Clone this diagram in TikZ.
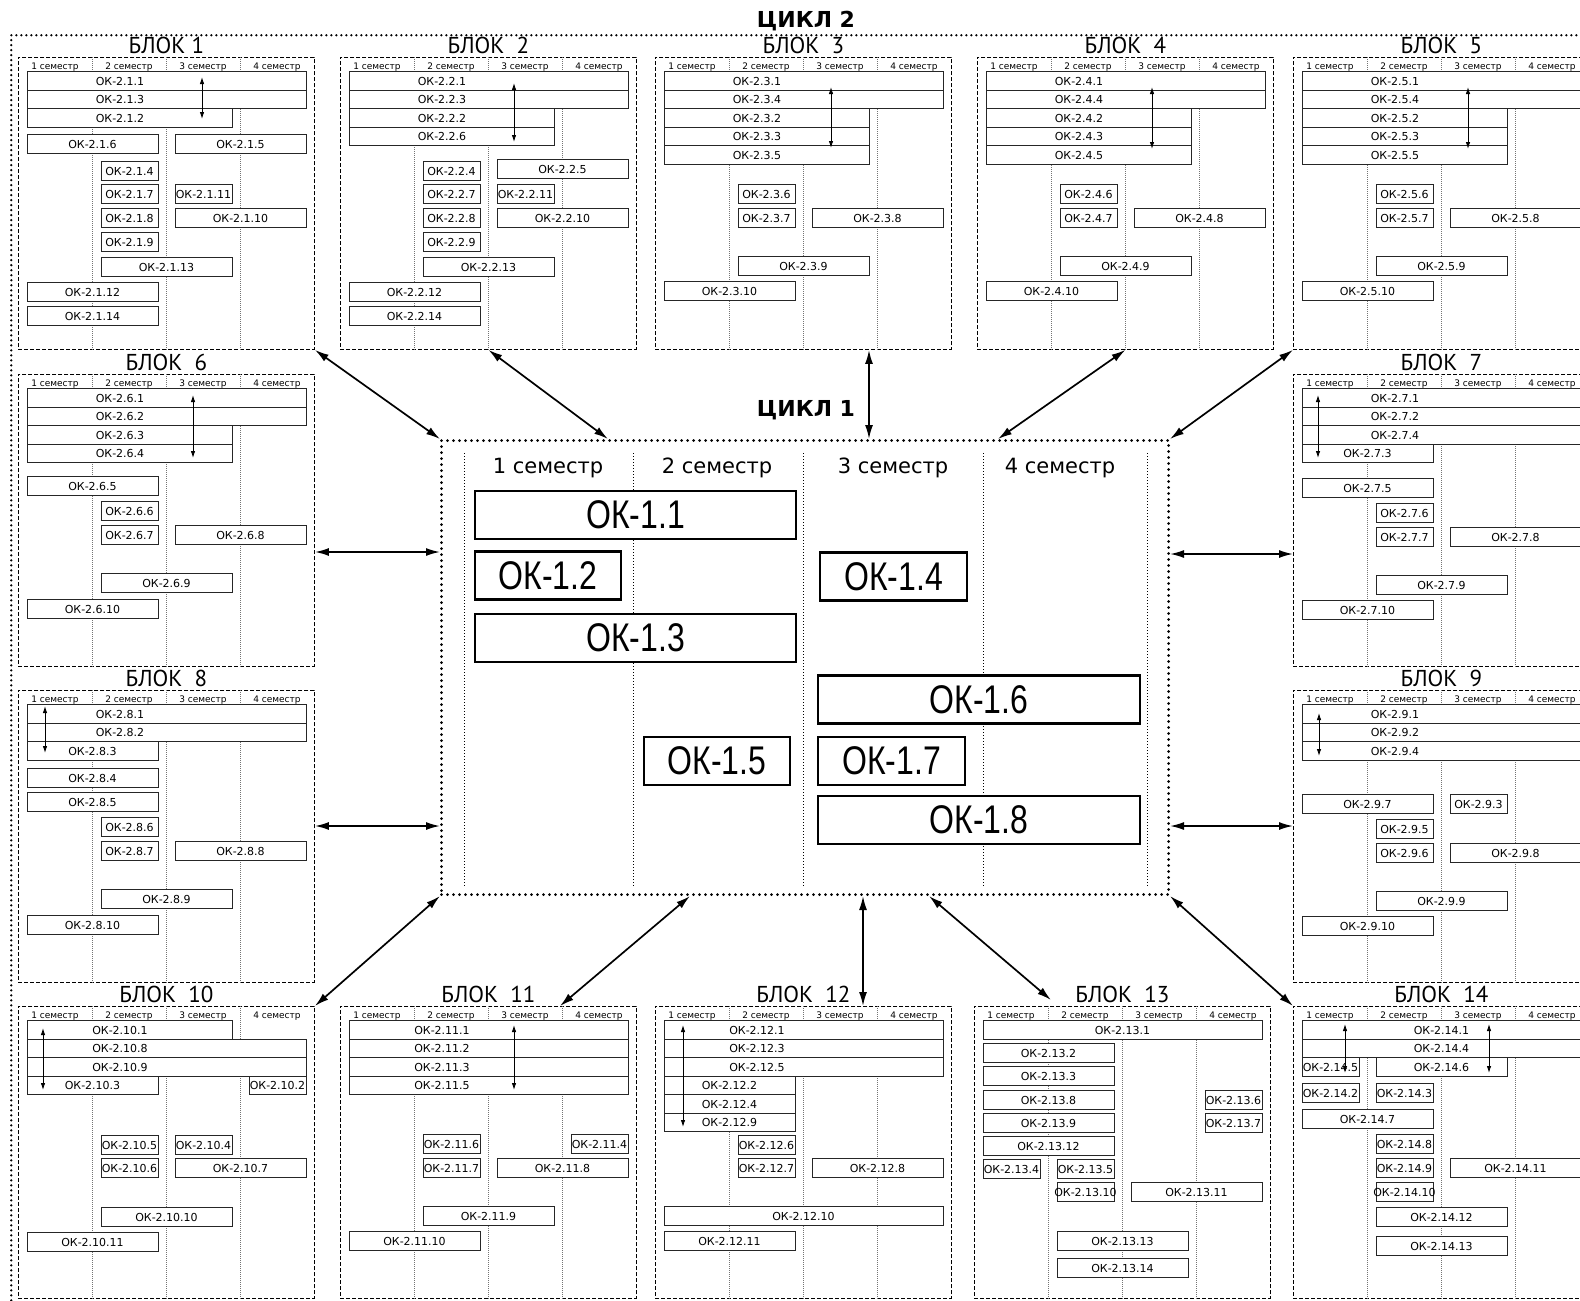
\documentclass[tikz,border=0pt]{standalone}
\usepackage{fontspec}
\setmainfont{DejaVu Sans}
\newfontfamily\bloktitlefont{PT Sans}
\newfontfamily\okbigfont[FakeStretch=0.8]{Liberation Sans}
\usetikzlibrary{arrows.meta,calc,positioning}

\tikzset{
  blokframe/.style={draw, dash pattern=on 4pt off 2pt, line width=0.9pt, minimum width=296pt, minimum height=292pt, inner sep=0pt, anchor=north west},
  bloktitle/.style={anchor=base, inner sep=0pt, font=\bloktitlefont\fontsize{23}{24}\selectfont},
  semhead/.style={anchor=base, inner sep=0pt, font=\fontsize{9}{10}\selectfont},
  colsep/.style={black!55, line width=0.6pt, dash pattern=on 1pt off 1pt},
  okbox/.style={draw=black!85, fill=white, line width=1pt, minimum height=18.5pt, inner sep=0pt, font=\fontsize{11}{12}\selectfont},
  oklabel/.style={inner sep=0pt, font=\fontsize{11}{12}\selectfont},
  inlink/.style={<->, >={Latex[length=7pt,width=4.5pt]}, line width=0.9pt},
  link/.style={<->, >={Latex[length=14pt,width=8pt]}, line width=1.7pt},
  cycframe/.style={draw, line width=3pt, dash pattern=on 0pt off 6pt, line cap=round, inner sep=0pt, anchor=north west},
  cyctitle/.style={anchor=base, inner sep=0pt, font=\bfseries\fontsize{22}{24}\selectfont},
  cycsep/.style={line width=0.8pt, dash pattern=on 1.2pt off 1.8pt},
  cychead/.style={anchor=base, inner sep=0pt, font=\fontsize{21}{24}\selectfont},
  cycbox/.style={draw, fill=white, line width=2.2pt, inner sep=0pt, minimum height=48pt, font=\okbigfont\fontsize{40}{44}\selectfont},
}

% block frame with semester columns
\newcommand{\blok}[4]{%
  \node[blokframe] (#1) at (#2,#3) {};
  \node[bloktitle] (#1title) at ($(#1.north)+(0,-4)$) {#4};
  \foreach \c in {1,2,3}
    \draw[colsep] ($(#1.north west)+(\c*74,0)$) -- ($(#1.south west)+(\c*74,0)$);
  \foreach \c in {1,...,4}
    \node[semhead] (#1sem\c) at ($(#1.north west)+(\c*74-37,12.5)$) {\c~семестр};
}
\newcommand{\kbox}[6]{%
  \node[okbox, minimum width={(#4-#3)*74-17}] (#2) at ($(#1.north west)+({(#3+#4)*37+0.5},#5)$) {\makebox[0pt]{#6}};
}
\newcommand{\krow}[6]{%
  \node[okbox, minimum width={(#4-#3)*74-17}] (#2) at ($(#1.north west)+({(#3+#4)*37+0.5},#5)$) {};
  \node[oklabel] (#2txt) at ($(#1.north west)+(102,#5)$) {#6};
}
\newcommand{\duo}[5]{%
  \coordinate (#2u) at ($(#1.north west)+(#3,#4)$);
  \coordinate (#2d) at ($(#1.north west)+(#3,#5)$);
  \draw[inlink] (#2u) -- (#2d);
}

\begin{document}
\begin{tikzpicture}[x=1pt,y=-1pt]
    \useasboundingbox (0,0) rectangle (1580,1301);
    \fill[white] (0,0) rectangle (1580,1301);
    \clip (0,0) rectangle (1580,1301);

    \node[cycframe, line width=2.5pt, dash pattern=on 0pt off 5pt, minimum width=1600pt, minimum height=1300pt] (cyc2) at (10,34) {};
    \node[cyctitle] (cyc2title) at (806,27) {ЦИКЛ 2};

    \blok{b1}{18}{57}{БЛОК 1}
    \krow{b1}{k2-1-1}{0}{4}{24}{ОК-2.1.1}
    \krow{b1}{k2-1-3}{0}{4}{42.5}{ОК-2.1.3}
    \krow{b1}{k2-1-2}{0}{3}{61}{ОК-2.1.2}
    \kbox{b1}{k2-1-6}{0}{2}{87}{ОК-2.1.6}
    \kbox{b1}{k2-1-5}{2}{4}{87}{ОК-2.1.5}
    \kbox{b1}{k2-1-4}{1}{2}{114}{ОК-2.1.4}
    \kbox{b1}{k2-1-7}{1}{2}{137}{ОК-2.1.7}
    \kbox{b1}{k2-1-11}{2}{3}{137}{ОК-2.1.11}
    \kbox{b1}{k2-1-8}{1}{2}{161}{ОК-2.1.8}
    \kbox{b1}{k2-1-10}{2}{4}{161}{ОК-2.1.10}
    \kbox{b1}{k2-1-9}{1}{2}{185}{ОК-2.1.9}
    \kbox{b1}{k2-1-13}{1}{3}{210}{ОК-2.1.13}
    \kbox{b1}{k2-1-12}{0}{2}{235}{ОК-2.1.12}
    \kbox{b1}{k2-1-14}{0}{2}{259}{ОК-2.1.14}
    \duo{b1}{g1}{184}{20}{62}

    \blok{b2}{340}{57}{БЛОК~~2}
    \krow{b2}{k2-2-1}{0}{4}{24}{ОК-2.2.1}
    \krow{b2}{k2-2-3}{0}{4}{42.5}{ОК-2.2.3}
    \krow{b2}{k2-2-2}{0}{3}{61}{ОК-2.2.2}
    \krow{b2}{k2-2-6}{0}{3}{79.5}{ОК-2.2.6}
    \kbox{b2}{k2-2-4}{1}{2}{114}{ОК-2.2.4}
    \kbox{b2}{k2-2-5}{2}{4}{112}{ОК-2.2.5}
    \kbox{b2}{k2-2-7}{1}{2}{137}{ОК-2.2.7}
    \kbox{b2}{k2-2-11}{2}{3}{137}{ОК-2.2.11}
    \kbox{b2}{k2-2-8}{1}{2}{161}{ОК-2.2.8}
    \kbox{b2}{k2-2-10}{2}{4}{161}{ОК-2.2.10}
    \kbox{b2}{k2-2-9}{1}{2}{185}{ОК-2.2.9}
    \kbox{b2}{k2-2-13}{1}{3}{210}{ОК-2.2.13}
    \kbox{b2}{k2-2-12}{0}{2}{235}{ОК-2.2.12}
    \kbox{b2}{k2-2-14}{0}{2}{259}{ОК-2.2.14}
    \duo{b2}{g2}{174}{26}{85}

    \blok{b3}{655}{57}{БЛОК~~3}
    \krow{b3}{k2-3-1}{0}{4}{24}{ОК-2.3.1}
    \krow{b3}{k2-3-4}{0}{4}{42.5}{ОК-2.3.4}
    \krow{b3}{k2-3-2}{0}{3}{61}{ОК-2.3.2}
    \krow{b3}{k2-3-3}{0}{3}{79.5}{ОК-2.3.3}
    \krow{b3}{k2-3-5}{0}{3}{98}{ОК-2.3.5}
    \kbox{b3}{k2-3-6}{1}{2}{137}{ОК-2.3.6}
    \kbox{b3}{k2-3-7}{1}{2}{161}{ОК-2.3.7}
    \kbox{b3}{k2-3-8}{2}{4}{161}{ОК-2.3.8}
    \kbox{b3}{k2-3-9}{1}{3}{209}{ОК-2.3.9}
    \kbox{b3}{k2-3-10}{0}{2}{234}{ОК-2.3.10}
    \duo{b3}{g3}{176}{30}{91}

    \blok{b4}{977}{57}{БЛОК~~4}
    \krow{b4}{k2-4-1}{0}{4}{24}{ОК-2.4.1}
    \krow{b4}{k2-4-4}{0}{4}{42.5}{ОК-2.4.4}
    \krow{b4}{k2-4-2}{0}{3}{61}{ОК-2.4.2}
    \krow{b4}{k2-4-3}{0}{3}{79.5}{ОК-2.4.3}
    \krow{b4}{k2-4-5}{0}{3}{98}{ОК-2.4.5}
    \kbox{b4}{k2-4-6}{1}{2}{137}{ОК-2.4.6}
    \kbox{b4}{k2-4-7}{1}{2}{161}{ОК-2.4.7}
    \kbox{b4}{k2-4-8}{2}{4}{161}{ОК-2.4.8}
    \kbox{b4}{k2-4-9}{1}{3}{209}{ОК-2.4.9}
    \kbox{b4}{k2-4-10}{0}{2}{234}{ОК-2.4.10}
    \duo{b4}{g4}{175}{30}{92}

    \blok{b5}{1293}{57}{БЛОК~~5}
    \krow{b5}{k2-5-1}{0}{4}{24}{ОК-2.5.1}
    \krow{b5}{k2-5-4}{0}{4}{42.5}{ОК-2.5.4}
    \krow{b5}{k2-5-2}{0}{3}{61}{ОК-2.5.2}
    \krow{b5}{k2-5-3}{0}{3}{79.5}{ОК-2.5.3}
    \krow{b5}{k2-5-5}{0}{3}{98}{ОК-2.5.5}
    \kbox{b5}{k2-5-6}{1}{2}{137}{ОК-2.5.6}
    \kbox{b5}{k2-5-7}{1}{2}{161}{ОК-2.5.7}
    \kbox{b5}{k2-5-8}{2}{4}{161}{ОК-2.5.8}
    \kbox{b5}{k2-5-9}{1}{3}{209}{ОК-2.5.9}
    \kbox{b5}{k2-5-10}{0}{2}{234}{ОК-2.5.10}
    \duo{b5}{g5}{175}{30}{92}

    \blok{b6}{18}{374}{БЛОК~~6}
    \krow{b6}{k2-6-1}{0}{4}{24}{ОК-2.6.1}
    \krow{b6}{k2-6-2}{0}{4}{42.5}{ОК-2.6.2}
    \krow{b6}{k2-6-3}{0}{3}{61}{ОК-2.6.3}
    \krow{b6}{k2-6-4}{0}{3}{79.5}{ОК-2.6.4}
    \kbox{b6}{k2-6-5}{0}{2}{112}{ОК-2.6.5}
    \kbox{b6}{k2-6-6}{1}{2}{137}{ОК-2.6.6}
    \kbox{b6}{k2-6-7}{1}{2}{161}{ОК-2.6.7}
    \kbox{b6}{k2-6-8}{2}{4}{161}{ОК-2.6.8}
    \kbox{b6}{k2-6-9}{1}{3}{209}{ОК-2.6.9}
    \kbox{b6}{k2-6-10}{0}{2}{235}{ОК-2.6.10}
    \duo{b6}{g6}{175}{21}{84}

    \blok{b7}{1293}{374}{БЛОК~~7}
    \krow{b7}{k2-7-1}{0}{4}{24}{ОК-2.7.1}
    \krow{b7}{k2-7-2}{0}{4}{42.5}{ОК-2.7.2}
    \krow{b7}{k2-7-4}{0}{4}{61}{ОК-2.7.4}
    \kbox{b7}{k2-7-3}{0}{2}{79.5}{ОК-2.7.3}
    \kbox{b7}{k2-7-5}{0}{2}{114}{ОК-2.7.5}
    \kbox{b7}{k2-7-6}{1}{2}{139}{ОК-2.7.6}
    \kbox{b7}{k2-7-7}{1}{2}{163}{ОК-2.7.7}
    \kbox{b7}{k2-7-8}{2}{4}{163}{ОК-2.7.8}
    \kbox{b7}{k2-7-9}{1}{3}{211}{ОК-2.7.9}
    \kbox{b7}{k2-7-10}{0}{2}{236}{ОК-2.7.10}
    \duo{b7}{g7}{25}{21}{84}

    \blok{b8}{18}{690}{БЛОК~~8}
    \krow{b8}{k2-8-1}{0}{4}{24}{ОК-2.8.1}
    \krow{b8}{k2-8-2}{0}{4}{42.5}{ОК-2.8.2}
    \kbox{b8}{k2-8-3}{0}{2}{61}{ОК-2.8.3}
    \kbox{b8}{k2-8-4}{0}{2}{88}{ОК-2.8.4}
    \kbox{b8}{k2-8-5}{0}{2}{112}{ОК-2.8.5}
    \kbox{b8}{k2-8-6}{1}{2}{137}{ОК-2.8.6}
    \kbox{b8}{k2-8-7}{1}{2}{161}{ОК-2.8.7}
    \kbox{b8}{k2-8-8}{2}{4}{161}{ОК-2.8.8}
    \kbox{b8}{k2-8-9}{1}{3}{209}{ОК-2.8.9}
    \kbox{b8}{k2-8-10}{0}{2}{235}{ОК-2.8.10}
    \duo{b8}{g8}{27}{16}{63}

    \blok{b9}{1293}{690}{БЛОК~~9}
    \krow{b9}{k2-9-1}{0}{4}{24}{ОК-2.9.1}
    \krow{b9}{k2-9-2}{0}{4}{42.5}{ОК-2.9.2}
    \krow{b9}{k2-9-4}{0}{4}{61}{ОК-2.9.4}
    \kbox{b9}{k2-9-7}{0}{2}{114}{ОК-2.9.7}
    \kbox{b9}{k2-9-3}{2}{3}{114}{ОК-2.9.3}
    \kbox{b9}{k2-9-5}{1}{2}{139}{ОК-2.9.5}
    \kbox{b9}{k2-9-6}{1}{2}{163}{ОК-2.9.6}
    \kbox{b9}{k2-9-8}{2}{4}{163}{ОК-2.9.8}
    \kbox{b9}{k2-9-9}{1}{3}{211}{ОК-2.9.9}
    \kbox{b9}{k2-9-10}{0}{2}{236}{ОК-2.9.10}
    \duo{b9}{g9}{26}{23}{66}

    \blok{b10}{18}{1006}{БЛОК~~10}
    \krow{b10}{k2-10-1}{0}{3}{24}{ОК-2.10.1}
    \krow{b10}{k2-10-8}{0}{4}{42.5}{ОК-2.10.8}
    \krow{b10}{k2-10-9}{0}{4}{61}{ОК-2.10.9}
    \kbox{b10}{k2-10-3}{0}{2}{79.5}{ОК-2.10.3}
    \kbox{b10}{k2-10-2}{3}{4}{79.5}{ОК-2.10.2}
    \kbox{b10}{k2-10-5}{1}{2}{139}{ОК-2.10.5}
    \kbox{b10}{k2-10-4}{2}{3}{139}{ОК-2.10.4}
    \kbox{b10}{k2-10-6}{1}{2}{162}{ОК-2.10.6}
    \kbox{b10}{k2-10-7}{2}{4}{162}{ОК-2.10.7}
    \kbox{b10}{k2-10-10}{1}{3}{211}{ОК-2.10.10}
    \kbox{b10}{k2-10-11}{0}{2}{236}{ОК-2.10.11}
    \duo{b10}{g10}{25}{22}{84}

    \blok{b11}{340}{1006}{БЛОК~~11}
    \krow{b11}{k2-11-1}{0}{4}{24}{ОК-2.11.1}
    \krow{b11}{k2-11-2}{0}{4}{42.5}{ОК-2.11.2}
    \krow{b11}{k2-11-3}{0}{4}{61}{ОК-2.11.3}
    \krow{b11}{k2-11-5}{0}{4}{79.5}{ОК-2.11.5}
    \kbox{b11}{k2-11-6}{1}{2}{138}{ОК-2.11.6}
    \kbox{b11}{k2-11-4}{3}{4}{138}{ОК-2.11.4}
    \kbox{b11}{k2-11-7}{1}{2}{162}{ОК-2.11.7}
    \kbox{b11}{k2-11-8}{2}{4}{162}{ОК-2.11.8}
    \kbox{b11}{k2-11-9}{1}{3}{210}{ОК-2.11.9}
    \kbox{b11}{k2-11-10}{0}{2}{235}{ОК-2.11.10}
    \duo{b11}{g11}{174}{19}{84}

    \blok{b12}{655}{1006}{БЛОК~~12}
    \krow{b12}{k2-12-1}{0}{4}{24}{ОК-2.12.1}
    \krow{b12}{k2-12-3}{0}{4}{42.5}{ОК-2.12.3}
    \krow{b12}{k2-12-5}{0}{4}{61}{ОК-2.12.5}
    \kbox{b12}{k2-12-2}{0}{2}{79.5}{ОК-2.12.2}
    \kbox{b12}{k2-12-4}{0}{2}{98}{ОК-2.12.4}
    \kbox{b12}{k2-12-9}{0}{2}{116.5}{ОК-2.12.9}
    \kbox{b12}{k2-12-6}{1}{2}{139}{ОК-2.12.6}
    \kbox{b12}{k2-12-7}{1}{2}{162}{ОК-2.12.7}
    \kbox{b12}{k2-12-8}{2}{4}{162}{ОК-2.12.8}
    \kbox{b12}{k2-12-10}{0}{4}{210}{ОК-2.12.10}
    \kbox{b12}{k2-12-11}{0}{2}{235}{ОК-2.12.11}
    \duo{b12}{g12}{28}{19}{121}

    \blok{b13}{974}{1006}{БЛОК~~13}
    \kbox{b13}{k2-13-1}{0}{4}{24}{ОК-2.13.1}
    \kbox{b13}{k2-13-2}{0}{2}{47}{ОК-2.13.2}
    \kbox{b13}{k2-13-3}{0}{2}{70}{ОК-2.13.3}
    \kbox{b13}{k2-13-8}{0}{2}{94}{ОК-2.13.8}
    \kbox{b13}{k2-13-6}{3}{4}{94}{ОК-2.13.6}
    \kbox{b13}{k2-13-9}{0}{2}{117}{ОК-2.13.9}
    \kbox{b13}{k2-13-7}{3}{4}{117}{ОК-2.13.7}
    \kbox{b13}{k2-13-12}{0}{2}{140}{ОК-2.13.12}
    \kbox{b13}{k2-13-4}{0}{1}{163}{ОК-2.13.4}
    \kbox{b13}{k2-13-5}{1}{2}{163}{ОК-2.13.5}
    \kbox{b13}{k2-13-10}{1}{2}{186}{ОК-2.13.10}
    \kbox{b13}{k2-13-11}{2}{4}{186}{ОК-2.13.11}
    \kbox{b13}{k2-13-13}{1}{3}{235}{ОК-2.13.13}
    \kbox{b13}{k2-13-14}{1}{3}{262}{ОК-2.13.14}

    \blok{b14}{1293}{1006}{БЛОК~~14}
    \kbox{b14}{k2-14-1}{0}{4}{24}{ОК-2.14.1}
    \kbox{b14}{k2-14-4}{0}{4}{42.5}{ОК-2.14.4}
    \kbox{b14}{k2-14-5}{0}{1}{61}{ОК-2.14.5}
    \kbox{b14}{k2-14-6}{1}{3}{61}{ОК-2.14.6}
    \kbox{b14}{k2-14-2}{0}{1}{87}{ОК-2.14.2}
    \kbox{b14}{k2-14-3}{1}{2}{87}{ОК-2.14.3}
    \kbox{b14}{k2-14-7}{0}{2}{113}{ОК-2.14.7}
    \kbox{b14}{k2-14-8}{1}{2}{138}{ОК-2.14.8}
    \kbox{b14}{k2-14-9}{1}{2}{162}{ОК-2.14.9}
    \kbox{b14}{k2-14-11}{2}{4}{162}{ОК-2.14.11}
    \kbox{b14}{k2-14-10}{1}{2}{186}{ОК-2.14.10}
    \kbox{b14}{k2-14-12}{1}{3}{211}{ОК-2.14.12}
    \kbox{b14}{k2-14-13}{1}{3}{240}{ОК-2.14.13}
    \duo{b14}{g14a}{52}{18}{67}
    \duo{b14}{g14b}{196}{18}{67}

    \node[cycframe, minimum width=727pt, minimum height=454pt] (cyc1) at (440,439) {};
    \node[cyctitle] (cyc1title) at (806,416) {ЦИКЛ 1};
    \foreach \x in {464,633,803,983,1147}
        \draw[cycsep] (\x,453) -- (\x,887);
    \node[cychead] (sem1) at (548,473) {1 семестр};
    \node[cychead] (sem2) at (717,473) {2 семестр};
    \node[cychead] (sem3) at (893,473) {3 семестр};
    \node[cychead] (sem4) at (1060,473) {4 семестр};

    \node[cycbox, minimum width=321pt] (k1-1) at (635.5,515) {ОК-1.1};
    \node[cycbox, minimum width=146pt] (k1-2) at (548,575.5) {ОК-1.2};
    \node[cycbox, minimum width=321pt] (k1-3) at (635.5,638) {ОК-1.3};
    \node[cycbox, minimum width=147pt] (k1-4) at (893.5,576.5) {ОК-1.4};
    \node[cycbox, minimum width=322pt] (k1-6) at (979,699.5) {ОК-1.6};
    \node[cycbox, minimum width=146pt] (k1-5) at (717,761) {ОК-1.5};
    \node[cycbox, minimum width=147pt] (k1-7) at (891.5,761) {ОК-1.7};
    \node[cycbox, minimum width=322pt] (k1-8) at (979,820) {ОК-1.8};

    \coordinate (p2) at ($(cyc1.north west)+(168,0)$);
    \coordinate (q3) at ($(b3.south west)+(214,0)$);
    \coordinate (p3) at ($(cyc1.north west)+(429,0)$);
    \coordinate (p4) at ($(cyc1.north west)+(558,0)$);
    \coordinate (q6) at ($(b6.north east)+(0,178)$);
    \coordinate (p6) at ($(cyc1.north west)+(0,113)$);
    \coordinate (p7) at ($(cyc1.north east)+(0,115)$);
    \coordinate (q7) at ($(b7.north west)+(0,180)$);
    \coordinate (q8) at ($(b8.north east)+(0,136)$);
    \coordinate (p8) at ($(cyc1.north west)+(0,387)$);
    \coordinate (p9) at ($(cyc1.north east)+(0,387)$);
    \coordinate (q9) at ($(b9.north west)+(0,136)$);
    \coordinate (q11) at ($(b11.north west)+(220,0)$);
    \coordinate (p11) at ($(cyc1.south west)+(250,0)$);
    \coordinate (q12) at ($(b12.north west)+(208,0)$);
    \coordinate (p12) at ($(cyc1.south west)+(423,0)$);
    \coordinate (q13) at ($(b13.north west)+(77,-6)$);
    \coordinate (p13) at ($(cyc1.south west)+(489,0)$);

    \draw[link] (b1.south east) -- (cyc1.north west);
    \draw[link] (b2.south) -- (p2);
    \draw[link] (q3) -- (p3);
    \draw[link] (b4.south) -- (p4);
    \draw[link] (b5.south west) -- (cyc1.north east);
    \draw[link] (q6) -- (p6);
    \draw[link] (p7) -- (q7);
    \draw[link] (q8) -- (p8);
    \draw[link] (p9) -- (q9);
    \draw[link] (b10.north east) -- (cyc1.south west);
    \draw[link] (q11) -- (p11);
    \draw[link] (q12) -- (p12);
    \draw[link] (q13) -- (p13);
    \draw[link] (b14.north west) -- (cyc1.south east);
\end{tikzpicture}
\end{document}
